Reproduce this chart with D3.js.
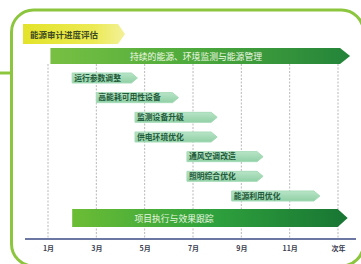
<!DOCTYPE html>
<html><head><meta charset="utf-8">
<script src="https://cdn.jsdelivr.net/npm/d3@7"></script>
<style>html,body{margin:0;padding:0;background:#fff;overflow:hidden}svg{display:block}</style>
</head><body>
<script>
const title = "能源审计进度评估";
const tickMonths = [1, 3, 5, 7, 9, 11, 13];
const tickLabels = ["1月", "3月", "5月", "7月", "9月", "11月", "次年"];
const mainTop = {name: "持续的能源、环境监测与能源管理", start: 1.1, end: 13.5};
const mainBottom = {name: "项目执行与效果跟踪", start: 2.0, end: 13.4};
const tasks = ["运行参数调整", "高能耗可用性设备", "监测设备升级", "供电环境优化", "通风空调改造", "照明综合优化", "能源利用优化"];
const taskStart = [2.0, 3.0, 4.6, 4.6, 6.75, 6.75, 8.6];
const taskEnd = [4.7, 6.4, 8.0, 8.0, 9.9, 9.9, 12.25];

const W = 361, H = 264;
const svg = d3.select("body").append("svg").attr("width", W).attr("height", H);
const defs = svg.append("defs");
function lg(id, stops, vertical) {
  const g = defs.append("linearGradient").attr("id", id)
    .attr("x1", 0).attr("y1", 0).attr("x2", vertical ? 0 : 1).attr("y2", vertical ? 1 : 0);
  stops.forEach(s => g.append("stop").attr("offset", s[0]).attr("stop-color", s[1]));
}
lg("gTop", [[0, "#78c043"], [0.45, "#4fab3c"], [1, "#23843a"]]);
lg("gBot", [[0, "#6cbd35"], [0.5, "#2fa23d"], [1, "#187533"]]);
lg("gTag", [[0, "#e3e32a"], [0.7, "#ecea55"], [1, "#f3f19a"]]);
lg("gTask", [[0, "#b8e4c6"], [1, "#90d0a6"]], true);

const x = d3.scaleLinear().domain([1, 13]).range([48, 338]);
const y = d3.scalePoint().domain(tasks).range([78, 196]);

// frame
svg.append("rect").attr("x", 11.5).attr("y", 10).attr("width", 352).attr("height", 256)
  .attr("rx", 22).attr("fill", "none").attr("stroke", "#8cc63f").attr("stroke-width", 3);
svg.append("line").attr("x1", 0).attr("x2", 11).attr("y1", 73).attr("y2", 73)
  .attr("stroke", "#8cc63f").attr("stroke-width", 3);

// title tag
const tag = d3.path();
tag.moveTo(23, 24); tag.lineTo(118, 24); tag.lineTo(125, 34); tag.lineTo(118, 44); tag.lineTo(23, 44); tag.closePath();
svg.append("path").attr("d", tag.toString()).attr("fill", "url(#gTag)");
svg.append("text").attr("x", 30).attr("y", 37.5).text(title)
  .attr("font-family", "Noto Sans CJK SC").attr("font-size", 8.5).attr("font-weight", "bold").attr("fill", "#3d4a22");

// grid
const axisY = 239;
svg.append("g").selectAll("line").data(tickMonths).join("line")
  .attr("x1", d => x(d)).attr("x2", d => x(d)).attr("y1", 64).attr("y2", axisY)
  .attr("stroke", "#b9b9b9").attr("stroke-width", 1).attr("stroke-dasharray", "2,1.5");

// axis
const axis = svg.append("g").attr("transform", `translate(0,${axisY})`)
  .call(d3.axisBottom(x).tickValues(tickMonths).tickFormat((d, i) => tickLabels[i]).tickSize(0).tickPadding(7));
axis.select(".domain").remove();
axis.selectAll("text").attr("font-family", "Noto Sans CJK SC").attr("font-size", 7).attr("font-weight", "bold").attr("fill", "#3b4050");
svg.append("line").attr("x1", 25).attr("x2", 356).attr("y1", axisY).attr("y2", axisY)
  .attr("stroke", "#3d4a86").attr("stroke-width", 1.6);

function arrowPath(x0, x1, yc, h, tip) {
  const p = d3.path();
  p.moveTo(x0, yc - h / 2); p.lineTo(x1 - tip, yc - h / 2); p.lineTo(x1, yc);
  p.lineTo(x1 - tip, yc + h / 2); p.lineTo(x0, yc + h / 2); p.closePath();
  return p.toString();
}

// main bars
function mainBar(b, yc, h, fill) {
  svg.append("path").attr("d", arrowPath(x(b.start), x(b.end), yc, h, 10)).attr("fill", fill);
}
mainBar(mainTop, 56, 16, "url(#gTop)");
svg.append("text").attr("x", 196).attr("y", 59.5).attr("text-anchor", "middle").text(mainTop.name)
  .attr("font-family", "Noto Sans CJK SC").attr("font-size", 8.8).attr("fill", "#f2fbe8");
mainBar(mainBottom, 218, 18, "url(#gBot)");
svg.append("text").attr("x", 174).attr("y", 221.5).attr("text-anchor", "middle").text(mainBottom.name)
  .attr("font-family", "Noto Sans CJK SC").attr("font-size", 8.8).attr("fill", "#eaf7e0");

// tasks
const tg = svg.append("g").selectAll("g").data(tasks).join("g");
tg.append("path").attr("d", (d, i) => arrowPath(x(taskStart[i]), x(taskEnd[i]), y(d), 10, 6))
  .attr("fill", "url(#gTask)").attr("stroke", "#a5dbb7").attr("stroke-width", 1).attr("stroke-linejoin", "round");
tg.append("text").attr("x", (d, i) => x(taskStart[i]) + 2).attr("y", d => y(d) + 2.8).text(d => d)
  .attr("font-family", "Noto Sans CJK SC").attr("font-size", 7.8).attr("font-weight", "bold").attr("fill", "#1f5a3a");
</script>
</body></html>
